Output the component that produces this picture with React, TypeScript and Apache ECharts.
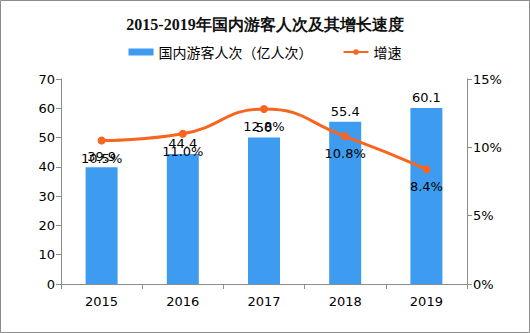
import React, { useEffect, useRef } from "react";
import * as echarts from "echarts";

const years = ["2015", "2016", "2017", "2018", "2019"];
const visitors = [39.9, 44.4, 50, 55.4, 60.1];
const growth = [10.5, 11.0, 12.8, 10.8, 8.4];
const titleText = "2015-2019年国内游客人次及其增长速度";
const barName = "国内游客人次（亿人次）";
const lineName = "增速";

export default function App() {
  const ref = useRef<HTMLDivElement>(null);
  useEffect(() => {
    document.body.style.margin = "0";
    const chart = echarts.init(ref.current!, null, { renderer: "svg" });
    const axisLine = { show: true, lineStyle: { color: "#8c8c8c", width: 1 } };
    const labelFont = { color: "#000", fontSize: 13, fontFamily: "DejaVu Sans" };
    chart.setOption({
      animation: false,
      backgroundColor: "#fff",
      title: {
        text: titleText,
        left: "center",
        top: 11,
        textStyle: { fontSize: 16, fontWeight: "bold", color: "#111", fontFamily: "serif" },
      },
      legend: {
        top: 40,
        left: "center",
        itemGap: 30,
        itemWidth: 25,
        itemHeight: 7,
        textStyle: { fontSize: 14, color: "#000", fontFamily: "Noto Sans CJK SC" },
        data: [
          { name: barName, icon: "rect" },
          { name: lineName },
        ],
      },
      grid: { left: 61, right: 63, top: 79, bottom: 49 },
      xAxis: {
        type: "category",
        data: years,
        axisLine,
        axisTick: { show: true, lineStyle: { color: "#8c8c8c" } },
        axisLabel: { ...labelFont, margin: 11 },
      },
      yAxis: [
        {
          type: "value",
          min: 0,
          max: 70,
          interval: 10,
          axisLine,
          axisTick: { show: true, lineStyle: { color: "#8c8c8c" } },
          splitLine: { show: false },
          axisLabel: { ...labelFont, margin: 6 },
        },
        {
          type: "value",
          min: 0,
          max: 15,
          interval: 5,
          axisLine,
          axisTick: { show: true, lineStyle: { color: "#8c8c8c" } },
          splitLine: { show: false },
          axisLabel: { ...labelFont, margin: 6, formatter: "{value}%" },
        },
      ],
      series: [
        {
          name: barName,
          type: "bar",
          data: visitors,
          barWidth: 32,
          itemStyle: { color: "#3d9cf0" },
          label: { show: true, position: "top", ...labelFont, distance: 4 },
        },
        {
          name: lineName,
          type: "line",
          yAxisIndex: 1,
          data: growth,
          smooth: true,
          symbol: "circle",
          symbolSize: 8,
          itemStyle: { color: "#f7651e" },
          lineStyle: { color: "#f7651e", width: 3 },
          label: {
            show: true,
            position: "bottom",
            ...labelFont,
            distance: 7,
            formatter: (p: any) => p.value.toFixed(1) + "%",
          },
          z: 5,
        },
      ],
      graphic: [
        {
          type: "rect",
          shape: { x: 0.5, y: 0.5, width: 529, height: 332 },
          style: { fill: "none", stroke: "#8c8c8c", lineWidth: 1 },
          silent: true,
        },
      ],
    });
    return () => chart.dispose();
  }, []);
  return <div ref={ref} style={{ width: 530, height: 333, position: "absolute", left: 0, top: 0 }} />;
}
